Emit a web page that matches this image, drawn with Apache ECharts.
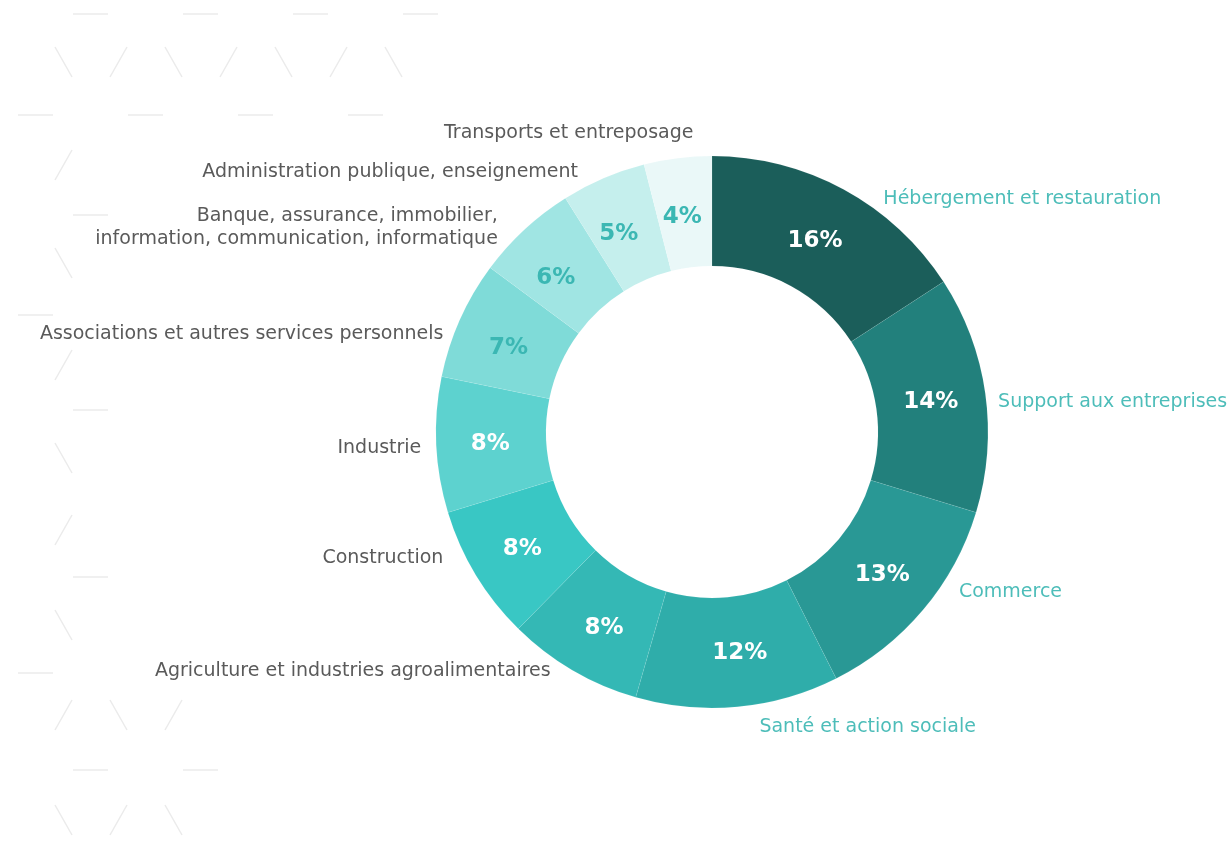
<!DOCTYPE html>
<html>
<head>
<meta charset="utf-8">
<script src="https://cdn.jsdelivr.net/npm/echarts@6/dist/echarts.min.js"></script>
<style>
  html, body { margin: 0; padding: 0; background: #fff; }
  #chart { width: 1231px; height: 849px; }
</style>
</head>
<body>
<div id="chart"></div>
<script>
// secteurs, dans le sens horaire depuis le haut
const categories = [
  'Hébergement et restauration',
  'Support aux entreprises',
  'Commerce',
  'Santé et action sociale',
  'Agriculture et industries agroalimentaires',
  'Construction',
  'Industrie',
  'Associations et autres services personnels',
  'Banque, assurance, immobilier,\ninformation, communication, informatique',
  'Administration publique, enseignement',
  'Transports et entreposage'
];
const shares = [16, 14, 13, 12, 8, 8, 8, 7, 6, 5, 4];

const sliceColors = ['#1b5e5a', '#22807c', '#299895', '#2fadaa', '#34b8b5', '#39c7c4',
  '#5dd2cf', '#7fdbd8', '#a0e5e3', '#c5efed', '#eaf8f8'];

// petits décalages des libellés (placement façon Excel)
const labelShift = [[16, 25], [-20, 11], [7, -29], [5, 2], [2, -15], [-6, -26],
  [13, 2], [10, 22], [-4, 11], [1, 7], [33, -7]];
const insideShift = [[-4, 6], [-3, 1], [-1, -1], [7, -2], [5, 3], [2, 1],
  [2, 2], [1, 7], [-4, 10], [-5, 8], [-2, 7]];

const chart = echarts.init(document.getElementById('chart'));

const center = [712, 432];
const radius = [166, 276];
const font = '"DejaVu Sans", Verdana, sans-serif';

// motif décoratif en fond (traits gris clairs)
const deco = [];
const dash = (x, y) => deco.push([x, y, x + 35, y]);
const back = (x, y) => deco.push([x, y, x + 17, y + 30]);   // "\"
const fwd = (x, y) => deco.push([x + 17, y, x, y + 30]);    // "/"
[[73, 14], [183, 14], [293, 14], [403, 14], [18, 115], [128, 115], [238, 115], [348, 115],
 [73, 215], [18, 315], [73, 410], [73, 577], [18, 673], [73, 770], [183, 770]].forEach(p => dash(p[0], p[1]));
[[55, 47], [165, 47], [275, 47], [385, 47], [55, 248], [55, 443], [55, 610], [110, 700], [55, 805], [165, 805]]
  .forEach(p => back(p[0], p[1]));
[[110, 47], [220, 47], [330, 47], [55, 150], [55, 350], [55, 515], [55, 700], [165, 700], [110, 805]]
  .forEach(p => fwd(p[0], p[1]));

const pieData = categories.map((name, i) => ({
  name,
  value: shares[i],
  itemStyle: { color: sliceColors[i] }
}));

chart.setOption({
  backgroundColor: '#ffffff',
  graphic: deco.map(l => ({
    type: 'line',
    silent: true,
    z: -10,
    shape: { x1: l[0], y1: l[1], x2: l[2], y2: l[3] },
    style: { stroke: '#ebebeb', lineWidth: 1.5 }
  })),
  series: [
    {
      // anneau + pourcentages
      type: 'pie',
      center,
      radius,
      startAngle: 90,
      clockwise: true,
      silent: true,
      data: pieData.map((d, i) => ({
        ...d,
        label: { color: i >= 7 ? '#3bb7b3' : '#ffffff' }
      })),
      itemStyle: { borderColor: 'rgba(255,255,255,0.15)', borderWidth: 0.5 },
      label: {
        position: 'inside',
        formatter: '{c}%',
        fontFamily: font,
        fontWeight: 'bold',
        fontSize: 23
      },
      labelLine: { show: false },
      labelLayout: (p) => ({
        dx: insideShift[p.dataIndex][0],
        dy: insideShift[p.dataIndex][1]
      })
    },
    {
      // libellés extérieurs
      type: 'pie',
      center,
      radius,
      startAngle: 90,
      clockwise: true,
      silent: true,
      data: pieData.map((d, i) => ({
        name: d.name,
        value: d.value,
        itemStyle: { color: 'rgba(0,0,0,0)' },
        label: { color: i < 4 ? '#4dbdb9' : '#5a5a5a' }
      })),
      label: {
        position: 'outside',
        overflow: 'none',
        fontFamily: font,
        fontSize: 19,
        lineHeight: 23
      },
      labelLine: { show: false, length: 18, length2: 10 },
      labelLayout: (p) => ({
        dx: labelShift[p.dataIndex][0],
        dy: labelShift[p.dataIndex][1]
      })
    }
  ]
});
</script>
</body>
</html>
